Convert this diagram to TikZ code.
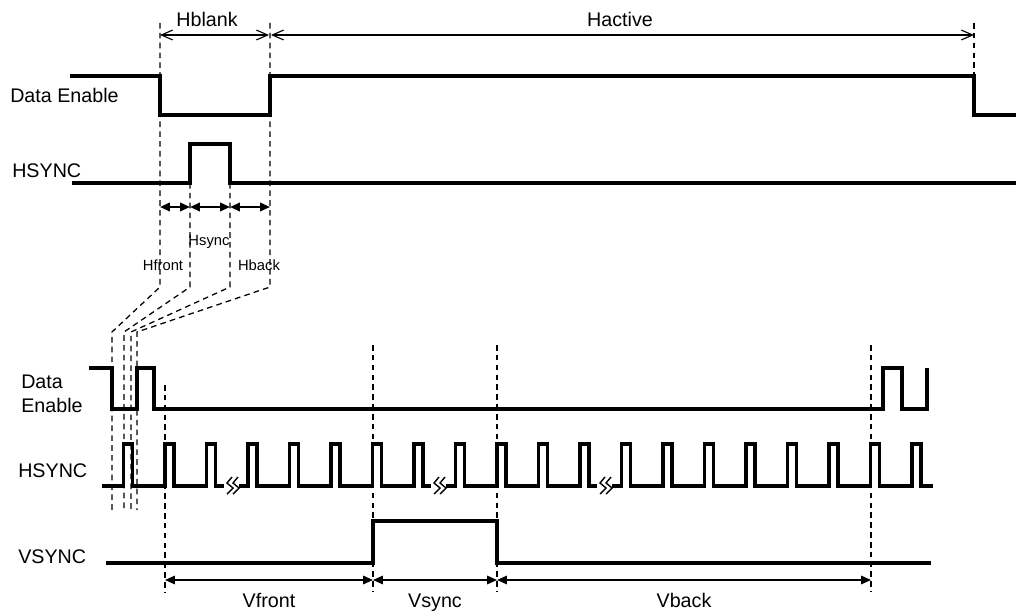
\documentclass[tikz,border=0pt]{standalone}
\usepackage{fontspec}
\setmainfont{Liberation Sans}
\usetikzlibrary{arrows.meta}

\begin{document}
\begin{tikzpicture}[x=0.025cm, y=-0.025cm,
  wave/.style={line width=2.8pt},
  lowwave/.style={line width=2.3pt},
  guide/.style={line width=0.9pt, dash pattern=on 4pt off 3pt},
  spanarrow/.style={{Straight Barb[length=8pt,width=7pt]}-{Straight Barb[length=8pt,width=7pt]}, line width=0.8pt},
  dimarrow/.style={{Triangle[length=7pt,width=6pt]}-{Triangle[length=7pt,width=6pt]}, line width=1.4pt},
  vdimarrow/.style={{Triangle[length=7pt,width=6pt]}-{Triangle[length=7pt,width=6pt]}, line width=1.1pt},
  big/.style={font=\fontsize{14}{17}\selectfont, inner sep=0pt},
  small/.style={font=\fontsize{10.5}{12}\selectfont, inner sep=0pt},
]
\useasboundingbox (0,0) rectangle (1016,611);

% line timing
\node[big, anchor=base west] (de1) at (10,102) {Data Enable};
\node[big, anchor=base west] (hs1) at (12,177) {HSYNC};
\node[big, anchor=base] (hblank) at (207,27) {Hblank};
\node[big, anchor=base] (hactive) at (620,27) {Hactive};
\node[small, anchor=base] (hsync) at (209,245) {Hsync};
\node[small, anchor=base] (hfront) at (163,270) {Hfront};
\node[small, anchor=base] (hback) at (259,270) {Hback};

\draw[wave] (70,76) -- (160,76) -- (160,115) -- (270,115) -- (270,76) -- (974,76) -- (974,115) -- (1016,115);
\draw[wave] (72,183) -- (190,183) -- (190,144) -- (230,144) -- (230,183) -- (1016,183);

\draw[guide] (160,23) -- (160,287) -- (112,332) -- (112,510);
\draw[guide] (190,183) -- (190,287) -- (124,332) -- (124,510);
\draw[guide] (230,183) -- (230,287) -- (131,332) -- (131,510);
\draw[guide] (270,23) -- (270,287) -- (137,332) -- (137,510);
\draw[guide] (974,23) -- (974,76);

\coordinate (bl) at (160,35);
\coordinate (br) at (270,35);
\coordinate (ar) at (974,35);
\draw[spanarrow, shorten >=0.7pt] (bl) -- (br);
\draw[spanarrow, shorten <=0.7pt] (br) -- (ar);

\coordinate (hf) at (160,207);
\coordinate (hs) at (190,207);
\coordinate (he) at (230,207);
\coordinate (hb) at (270,207);
\draw[dimarrow] (hf) -- (hs);
\draw[dimarrow] (hs) -- (he);
\draw[dimarrow] (he) -- (hb);

% frame timing
\node[big, anchor=west, align=left] (de2) at (21,394) {Data\\Enable};
\node[big, anchor=base west] (hs2) at (18,477) {HSYNC};
\node[big, anchor=base west] (vs2) at (18,563) {VSYNC};
\node[big, anchor=base] (vfront) at (269,607) {Vfront};
\node[big, anchor=base] (vsync) at (435,607) {Vsync};
\node[big, anchor=base] (vback) at (684,607) {Vback};

\draw[lowwave] (89,368) -- (112,368) -- (112,409) -- (137,409) -- (137,368) -- (154,368) -- (154,409)
  -- (883,409) -- (883,368) -- (902,368) -- (902,409) -- (927,409) -- (927,368);
\draw[lowwave] (102,486) \foreach \k in {0,...,19} {
  -- ({123.5+41.5*\k},486) -- ++(0,-42) -- ++(9,0) -- ++(0,42) } -- (933,486);
\draw[lowwave] (106,563) -- (373,563) -- (373,521) -- (497,521) -- (497,563) -- (931,563);

\foreach \b in {232,439,605} {
  \fill[white] (\b-8,482) rectangle (\b+7,490);
  \draw[line width=1pt] (\b,477) -- (\b-5,483) -- (\b+1,488) -- (\b-5,494)
    (\b+6,477) -- (\b+1,483) -- (\b+7,488) -- (\b+1,494);
}

\draw[guide] (165,385) -- (165,592);
\foreach \x in {373,497,871}
  \draw[guide] (\x,345) -- (\x,592);

\coordinate (vf) at (165,580);
\coordinate (vs) at (373,580);
\coordinate (ve) at (497,580);
\coordinate (vb) at (871,580);
\draw[vdimarrow] (vf) -- (vs);
\draw[vdimarrow] (vs) -- (ve);
\draw[vdimarrow] (ve) -- (vb);

\end{tikzpicture}
\end{document}
